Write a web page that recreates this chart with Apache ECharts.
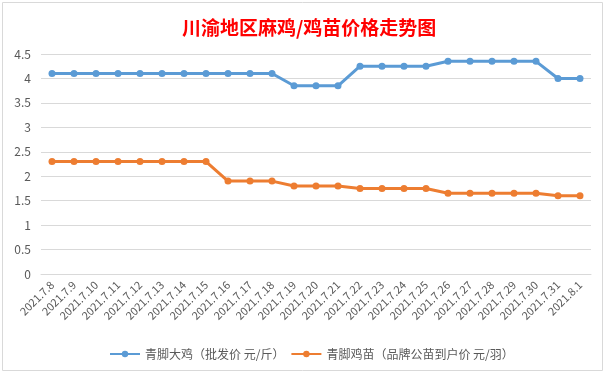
<!DOCTYPE html>
<html>
<head>
<meta charset="utf-8">
<script src="https://cdn.jsdelivr.net/npm/echarts@6/dist/echarts.min.js"></script>
<style>
  html, body { margin: 0; padding: 0; background: #fff; }
  #chart { width: 609px; height: 375px; }
</style>
</head>
<body>
<div id="chart"></div>
<script>
var dates = ['2021.7.8','2021.7.9','2021.7.10','2021.7.11','2021.7.12','2021.7.13','2021.7.14','2021.7.15',
  '2021.7.16','2021.7.17','2021.7.18','2021.7.19','2021.7.20','2021.7.21','2021.7.22','2021.7.23','2021.7.24',
  '2021.7.25','2021.7.26','2021.7.27','2021.7.28','2021.7.29','2021.7.30','2021.7.31','2021.8.1'];
// 青脚大鸡 批发价 元/斤
var chickenPrice = [4.1,4.1,4.1,4.1,4.1,4.1,4.1,4.1,4.1,4.1,4.1,3.85,3.85,3.85,4.25,4.25,4.25,4.25,4.35,4.35,4.35,4.35,4.35,4.0,4.0];
// 青脚鸡苗 品牌公苗到户价 元/羽
var chickPrice = [2.3,2.3,2.3,2.3,2.3,2.3,2.3,2.3,1.9,1.9,1.9,1.8,1.8,1.8,1.75,1.75,1.75,1.75,1.65,1.65,1.65,1.65,1.65,1.6,1.6];
var seriesNames = ['青脚大鸡（批发价 元/斤）', '青脚鸡苗（品牌公苗到户价 元/羽）'];

var font = 'Noto Sans CJK SC';
var chart = echarts.init(document.getElementById('chart'));
chart.setOption({
  color: ['#5B9BD5', '#ED7D31'],
  textStyle: { fontFamily: font },
  animation: false,
  title: {
    text: '川渝地区麻鸡/鸡苗价格走势图',
    left: 177,
    top: 13,
    textStyle: { color: '#FF0000', fontSize: 19, fontWeight: 'bold', fontFamily: font }
  },
  graphic: [{
    type: 'rect',
    shape: { x: 2.5, y: 2.5, width: 600, height: 368 },
    style: { fill: 'none', stroke: '#d9d9d9', lineWidth: 1 },
    silent: true
  }],
  legend: {
    data: seriesNames,
    left: 104,
    top: 343,
    itemWidth: 30,
    itemHeight: 8,
    itemGap: 6,
    textStyle: { color: '#595959', fontSize: 12, fontFamily: font }
  },
  grid: { left: 41, right: 18, top: 54, bottom: 101 },
  xAxis: {
    type: 'category',
    data: dates,
    boundaryGap: true,
    axisLine: { lineStyle: { color: '#d9d9d9' } },
    axisTick: { show: false },
    axisLabel: { rotate: 45, interval: 0, color: '#595959', fontSize: 11, margin: 9 }
  },
  yAxis: {
    type: 'value',
    min: 0,
    max: 4.5,
    interval: 0.5,
    axisLine: { show: false },
    axisTick: { show: false },
    splitLine: { lineStyle: { color: '#d9d9d9' } },
    axisLabel: { color: '#595959', fontSize: 12, margin: 10 }
  },
  series: [
    {
      name: seriesNames[0],
      type: 'line',
      data: chickenPrice,
      symbol: 'circle',
      symbolSize: 7,
      lineStyle: { width: 3 }
    },
    {
      name: seriesNames[1],
      type: 'line',
      data: chickPrice,
      symbol: 'circle',
      symbolSize: 7,
      lineStyle: { width: 3 }
    }
  ]
});
</script>
</body>
</html>
